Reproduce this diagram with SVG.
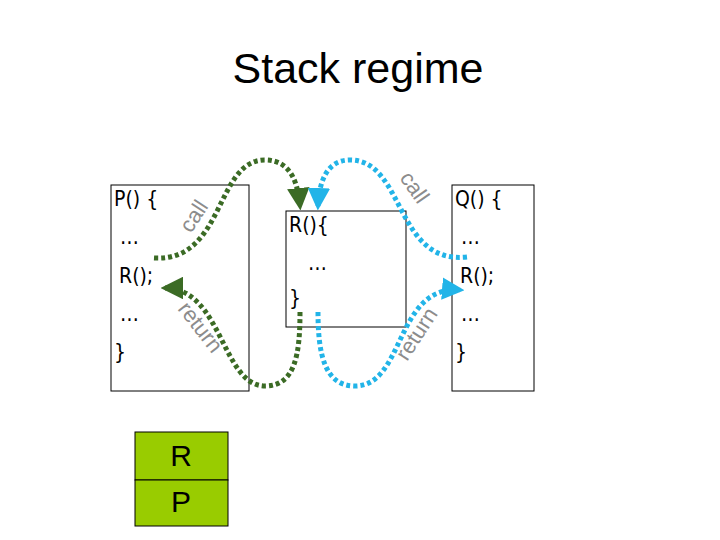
<svg xmlns="http://www.w3.org/2000/svg" width="720" height="540" viewBox="0 0 720 540">
<style>
.box{fill:#fff;stroke:#000;stroke-width:1}
.code{font-family:"DejaVu Sans Condensed","DejaVu Sans",sans-serif;font-stretch:condensed;font-size:21px;fill:#000}
.lbl{font-family:"Liberation Sans",Arial,sans-serif;font-size:22px;fill:#8c8c8c}
.g{fill:none;stroke:#3b6b25;stroke-width:5;stroke-dasharray:4 3}
.b{fill:none;stroke:#22b4e8;stroke-width:5;stroke-dasharray:4 3}
.stk{fill:#99cc00;stroke:#000;stroke-width:1}
.stxt{font-family:"Liberation Sans",Arial,sans-serif;font-size:30px;fill:#000;text-anchor:middle}
</style>
<defs>
<marker id="ag" viewBox="0 0 10 10" refX="8" refY="5" markerWidth="4.5" markerHeight="4.5" orient="auto" markerUnits="strokeWidth"><path d="M0,0 L10,5 L0,10 Z" fill="#3b6b25"/></marker>
<marker id="ab" viewBox="0 0 10 10" refX="8" refY="5" markerWidth="4.5" markerHeight="4.5" orient="auto" markerUnits="strokeWidth"><path d="M0,0 L10,5 L0,10 Z" fill="#22b4e8"/></marker>
</defs>
<rect width="720" height="540" fill="#fff"/>
<text x="358" y="83" font-family="Liberation Sans,Arial,sans-serif" font-size="43" text-anchor="middle">Stack regime</text>
<g id="P">
<rect class="box" x="111" y="185" width="138" height="206"/>
<text class="code" x="114" y="206">P() {</text>
<text class="code" x="120" y="244">…</text>
<text class="code" x="119" y="283">R();</text>
<text class="code" x="120" y="321">…</text>
<text class="code" x="114" y="359">}</text>
</g>
<g id="R">
<rect class="box" x="286" y="211" width="120" height="116"/>
<text class="code" x="289" y="232">R(){</text>
<text class="code" x="308" y="270">…</text>
<text class="code" x="289" y="305">}</text>
</g>
<g id="Q">
<rect class="box" x="452" y="185" width="82" height="206"/>
<text class="code" x="455" y="206">Q() {</text>
<text class="code" x="461" y="244">…</text>
<text class="code" x="460" y="283">R();</text>
<text class="code" x="461" y="321">…</text>
<text class="code" x="455" y="359">}</text>
</g>
<g id="connectors">
<path class="g" d="M154,258 C225,262 215,160 265,160 C292,160 298,185 300,206" marker-end="url(#ag)"/>
<path class="g" d="M300,312 C300,355 295,386 265,386 C222,386 222,288 165,288" marker-end="url(#ag)"/>
<path class="b" d="M467,257 C395,265 405,160 350,160 C325,160 319,185 318,206" marker-end="url(#ab)"/>
<path class="b" d="M318,312 C318,355 325,386 355,386 C405,386 395,285 460,290" marker-end="url(#ab)"/>
<text class="lbl" transform="translate(191,234) rotate(-57)">call</text>
<text class="lbl" transform="translate(177,309) rotate(52)">return</text>
<text class="lbl" transform="translate(399,178) rotate(55)">call</text>
<text class="lbl" transform="translate(407,362) rotate(-57)">return</text>
</g>
<g id="stack">
<rect class="stk" x="135" y="432" width="93" height="48"/>
<rect class="stk" x="135" y="480" width="93" height="46"/>
<text class="stxt" x="181" y="466">R</text>
<text class="stxt" x="181" y="512">P</text>
</g>
</svg>
